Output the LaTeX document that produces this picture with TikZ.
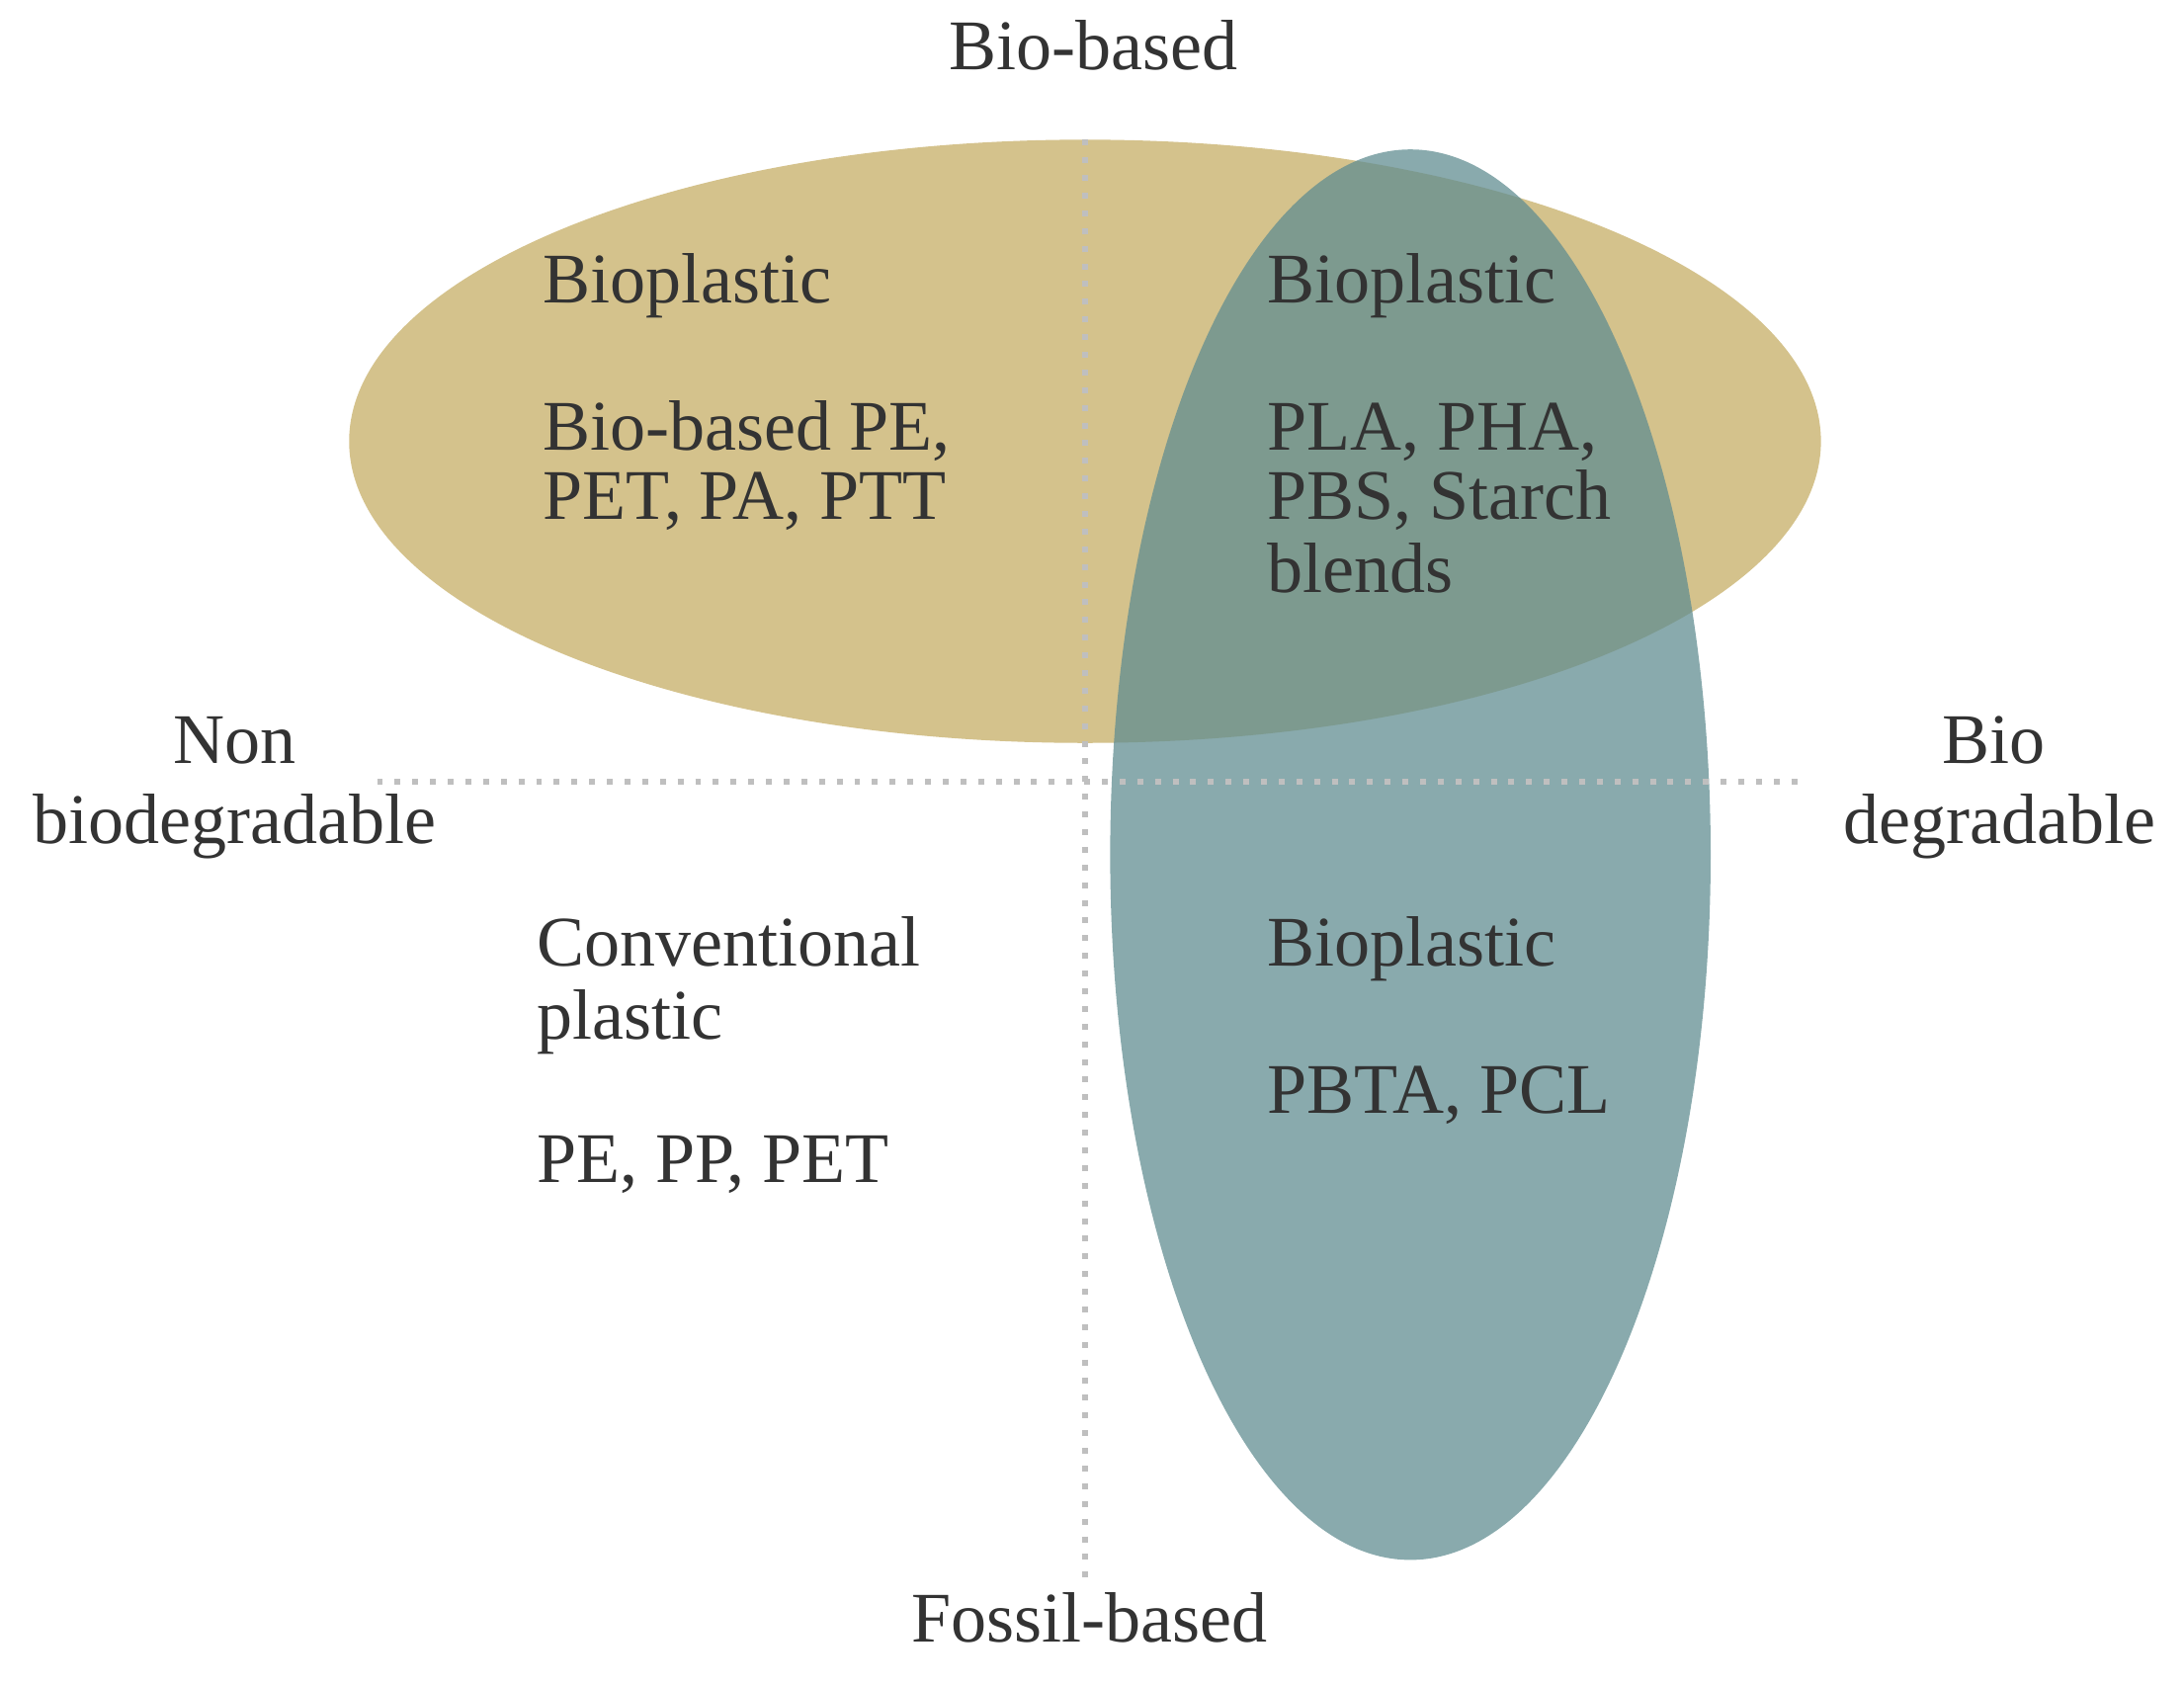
\documentclass[tikz,border=0pt]{standalone}
\usepackage{fontspec}
\setmainfont{Liberation Serif}
\begin{document}
\begin{tikzpicture}[x=0.01cm,y=-0.01cm,
 lab/.style={anchor=base west,inner sep=0,text=black!80,font=\fontsize{14.5}{17}\selectfont},
 clab/.style={lab,anchor=base},
 dots/.style={draw=black!25,line width=1.2pt,dash pattern=on 1.2pt off 2.4pt}]
\useasboundingbox (0,0) rectangle (1564,1208);
\definecolor{tan}{RGB}{212,194,140}
\definecolor{teal}{RGB}{97,141,145}
\fill[tan] (777,316) ellipse [x radius=527, y radius=216];
\draw[dots] (777,100) -- (777,1130);
\fill[teal,opacity=0.75] (1010,612) ellipse [x radius=215, y radius=505];
\draw[dots] (270,560) -- (1290,560);
\node[clab] (tb) at (783,50) {Bio-based};
\node[clab] (fb) at (780,1176) {Fossil-based};
\node[clab] (n1) at (168,547) {Non};
\node[clab] (n2) at (168,604) {biodegradable};
\node[clab] (b1) at (1428,547) {Bio};
\node[clab] (b2) at (1432,604) {degradable};
\node[lab] (a1) at (388,217) {Bioplastic};
\node[lab] (a2) at (388,322) {Bio-based PE,};
\node[lab] (a3) at (388,372) {PET, PA, PTT};
\node[lab] (c1) at (907,217) {Bioplastic};
\node[lab] (c2) at (907,322) {PLA, PHA,};
\node[lab] (c3) at (907,372) {PBS, Starch};
\node[lab] (c4) at (907,424) {blends};
\node[lab] (d1) at (384,692) {Conventional};
\node[lab] (d2) at (384,744) {plastic};
\node[lab] (d3) at (384,847) {PE, PP, PET};
\node[lab] (e1) at (907,692) {Bioplastic};
\node[lab] (e2) at (907,797) {PBTA, PCL};
\end{tikzpicture}
\end{document}
